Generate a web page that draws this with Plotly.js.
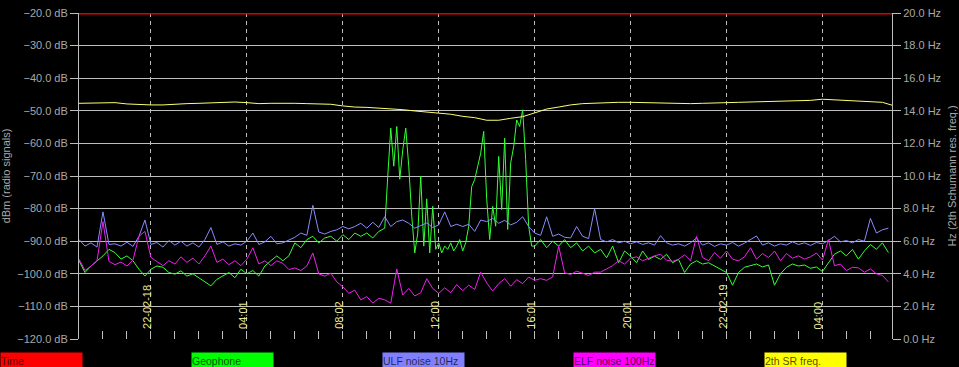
<!DOCTYPE html>
<html>
<head>
<meta charset="utf-8">
<script src="https://cdn.plot.ly/plotly-3.0.1.min.js"></script>
<style>html,body{margin:0;padding:0;background:#000;}#chart{width:959px;height:367px;}</style>
</head>
<body>
<div id="chart"></div>
<script>
// ---- data (hours relative to 2022-02-18 00:00) ----
const startHour = -3;
const stepHour = 0.25;

const tickHours = [0, 4, 8, 12, 16, 20, 24, 28];
const tickLabels = ["22-02-18", "04:01", "08:02", "12:00", "16:01", "20:01", "22-02-19", "04:00"];

const timeHours = [-3, 30.9];
const timeLevel = [-20, -20];

const ulfNoise = [
 -89.5,-91.5,-90.5,-91.8,-81,-91,-90.8,-91.5,-90.3,-91.6,
 -88.5,-83.5,-91,-90.4,-91.8,-89.8,-91.2,-90,-91.5,-90.5,
 -91.8,-89.5,-85.8,-91,-90.2,-91.5,-90.8,-91.2,-90,-87.5,
 -91,-90.2,-88.5,-90.8,-90.5,-89.7,-88.8,-87.5,-88.2,-79,
 -87.2,-87.8,-87,-86.5,-85.5,-86.2,-85.5,-84.5,-86,-84.2,
 -85.8,-82.5,-85.5,-84,-83.5,-84.5,-86,-85.2,-84.4,-85.8,
 -85,-81,-85.5,-84.8,-85.5,-84.8,-87,-83.5,-84,-83,
 -84.5,-83.6,-85,-84.2,-82.5,-85.5,-87.5,-88.2,-82.5,-88.5,
 -87.8,-88.8,-89,-85.5,-88.5,-89.2,-80,-89.5,-90.2,-89.5,
 -90.5,-90,-90.8,-90.2,-91,-90.5,-91.2,-88.3,-90.5,-91.2,
 -90.8,-91.5,-90.5,-89,-91.2,-90.5,-91.6,-90.8,-91.2,-90.4,
 -91.5,-90.6,-89.5,-88.4,-91.2,-90.5,-91.5,-90.8,-91.2,-90.2,
 -91,-90.5,-91.3,-90.4,-90.8,-89.8,-88.5,-90.2,-89.8,-90.5,
 -89.5,-90,-83,-87.5,-86.5,-86];

const elfNoise = [
 -95.5,-99,-97.6,-96,-84,-96.2,-97.2,-96.4,-97.6,-95.8,
 -88.5,-87,-95,-96.2,-97.5,-96,-97,-94.8,-96.5,-95.2,
 -97,-94.5,-91.5,-96.5,-95.5,-97.2,-96,-97.5,-95.5,-92,
 -97,-96,-97.5,-96,-96.8,-98.7,-98.2,-99,-97.6,-93.6,
 -100,-100.7,-99.8,-102.5,-104,-106,-105,-108,-107,-109,
 -107.5,-108,-109,-98.5,-106.5,-104.5,-106.8,-105.8,-101.5,-104.5,
 -106,-104.3,-105.8,-103.3,-105.2,-103.5,-104.8,-99.5,-102.8,-105.3,
 -103,-101.5,-103.8,-101.8,-103,-101,-102,-101.5,-102,-101,
 -91.5,-99.7,-100.2,-99.2,-99.8,-100.5,-99.5,-99.5,-98.5,-97.5,
 -96,-97,-95.2,-94.8,-96,-95.2,-94.5,-94,-95.8,-96.2,
 -95.5,-94.2,-96,-88.5,-95,-96,-93.5,-95.2,-93,-95.5,
 -96,-94.8,-92,-95.5,-93.8,-95,-93,-96,-93.8,-95.2,
 -94.5,-95.5,-94.8,-93.6,-95.8,-89.5,-97.5,-97,-99,-98,
 -98.2,-99.5,-98.5,-100,-100.5,-102.5];

// Geophone: quarter-hour samples, denser samples (7.5 min) during the burst
const geoBeforeStart = -3, geoBeforeStep = 0.25;
const geophoneBefore = [
 -96,-99.6,-97.6,-96,-94.5,-92.5,-93.5,-95.5,-94.5,-96,
 -98.6,-100.7,-98.6,-97.6,-98,-99.6,-100.1,-99.1,-100.7,-100,
 -101.2,-102.4,-103.7,-101.7,-100.7,-99.6,-101.2,-98.6,-100,-99,
 -100.7,-97.6,-96,-94.5,-96,-94.5,-90.5,-92,-89.5,-88.5,
 -90.5,-89,-88.5,-90,-88,-89.5,-87.5,-88.5,-87.5,-89,
 -87,-86];
const geoBurstStart = 9.875, geoBurstStep = 0.125;
const geophoneBurst = [
 -70,-55.3,-67,-54.8,-71,-62,-55.3,-67,-82.3,-93.6,
 -87.5,-70,-91.5,-77,-93.6,-79.3,-92.5,-90.5,-93.6,-91.5,
 -92.5,-90.5,-93,-91.5,-89.5,-93,-90.5,-85.4,-73.2,-71.1,
 -67,-63,-56.3,-77,-89.5,-79.3,-85.4,-64,-80.3,-58.4,
 -86.4,-66,-61,-52.8,-54.8,-49.7,-65,-85.4,-91.5];
const geoAfterStart = 16.0, geoAfterStep = 0.25;
const geophoneAfter = [
 -91.5,-89.5,-92,-90,-91.5,-89.5,-92,-90.5,-93,-91.5,
 -93.6,-92.5,-95.1,-91.5,-96.6,-93,-94.6,-96.6,-93,-95.6,
 -94.6,-95.6,-94,-96.6,-95.6,-99.6,-97,-96,-97,-96.6,
 -97.6,-98.6,-99.6,-103.5,-99.6,-98,-97.6,-97,-97.9,-97.3,
 -103.5,-100,-98,-97,-97.6,-97.3,-98.3,-97.9,-99.3,-96.6,
 -94,-93,-94.5,-92.5,-95.5,-93,-91,-92.5,-90.5,-93.5];

// 2nd Schumann resonance frequency (Hz), half-hour samples
const srStart = -3, srStep = 0.5;
const srFreq = [
 14.46,14.48,14.52,14.5,14.42,14.38,14.36,14.36,14.42,14.44,
 14.46,14.5,14.52,14.54,14.5,14.44,14.46,14.48,14.46,14.44,
 14.42,14.4,14.3,14.23,14.21,14.17,14.15,14.07,13.99,13.91,
 13.87,13.79,13.66,13.58,13.42,13.42,13.54,13.64,13.87,14.11,
 14.23,14.36,14.44,14.48,14.5,14.52,14.52,14.5,14.5,14.48,
 14.46,14.44,14.46,14.5,14.5,14.52,14.54,14.56,14.62,14.62,
 14.64,14.64,14.71,14.67,14.64,14.62,14.58,14.52,14.3];

const legendNames = ["Time", "Geophone", "ULF noise 10Hz", "ELF noise 100Hz", "2th SR freq."];
const legendColors = ["#ff0000", "#00ff00", "#8080ff", "#ff00ff", "#ffff00"];

// ---- build ----
const seq = (start, step, n) => Array.from({length: n}, (_, i) => +(start + i * step).toFixed(4));
const noiseHours = seq(startHour, stepHour, ulfNoise.length);
const geoHours = seq(geoBeforeStart, geoBeforeStep, geophoneBefore.length)
  .concat(seq(geoBurstStart, geoBurstStep, geophoneBurst.length))
  .concat(seq(geoAfterStart, geoAfterStep, geophoneAfter.length));
const geoValues = geophoneBefore.concat(geophoneBurst, geophoneAfter);
const srHours = seq(srStart, srStep, srFreq.length);

const FONT = "Liberation Sans, Arial, sans-serif";
const GRAY = "#a8a8a8";
const LINE = "#bdbdbd";

const traces = [
  {x: timeHours, y: timeLevel, type: "scatter", mode: "lines", line: {color: "#e00000", width: 3}, hoverinfo: "skip"},
  {x: geoHours, y: geoValues, type: "scatter", mode: "lines", line: {color: "#33ff33", width: 1}},
  {x: noiseHours, y: ulfNoise, type: "scatter", mode: "lines", line: {color: "#8a8aff", width: 1}},
  {x: noiseHours, y: elfNoise, type: "scatter", mode: "lines", line: {color: "#f020f0", width: 1}},
  {x: srHours, y: srFreq, type: "scatter", mode: "lines", yaxis: "y2", line: {color: "#ffff70", width: 1}}
];

const W = 959, H = 367, L = 79, R = 67, T = 13, B = 28;
const pw = W - L - R, ph = H - T - B;
const annotations = [];
tickHours.forEach((h, i) => {
  annotations.push({x: h, xref: "x", y: 8 / ph, yref: "paper", yanchor: "bottom", xanchor: "center",
    text: tickLabels[i], textangle: -90, showarrow: false, xshift: -4,
    font: {family: FONT, size: 11, color: "#e6e68c"}});
});
const legendLefts = [0, 191, 382, 573, 764];
legendNames.forEach((name, i) => {
  annotations.push({x: (legendLefts[i] - L) / pw, xref: "paper", xanchor: "left",
    y: (H - B - 352) / ph, yref: "paper", yanchor: "top",
    text: name, showarrow: false, width: 81, height: 15, align: "left", valign: "middle",
    bgcolor: legendColors[i], borderpad: 0,
    font: {family: FONT, size: 10.5, color: "rgba(0,0,0,0.72)"}});
});

const layout = {
  width: W, height: H,
  margin: {l: L, r: R, t: T, b: B, pad: 0},
  paper_bgcolor: "#000", plot_bgcolor: "#000",
  showlegend: false,
  font: {family: FONT, size: 11, color: GRAY},
  xaxis: {
    range: [-3, 30.9], tickvals: tickHours, showticklabels: false,
    ticks: "inside", ticklen: 8, tickcolor: LINE,
    showgrid: true, gridcolor: LINE, griddash: "4px,4px", gridwidth: 1,
    zeroline: false, showline: false,
    minor: {dtick: 1, tick0: 0, ticks: "inside", ticklen: 8, tickcolor: LINE, showgrid: false}
  },
  yaxis: {
    range: [-120, -20], dtick: 10, tickformat: ".1f", ticksuffix: " dB",
    ticks: "outside", ticklen: 8, tickcolor: LINE,
    showline: true, linecolor: LINE, gridcolor: LINE, zeroline: false,
    tickfont: {family: FONT, size: 11, color: GRAY},
    title: {text: "dBm (radio signals)", font: {family: FONT, size: 11, color: GRAY}, standoff: 6}
  },
  yaxis2: {
    overlaying: "y", side: "right", range: [0, 20], dtick: 2, tickformat: ".1f", ticksuffix: " Hz",
    ticks: "outside", ticklen: 8, tickcolor: LINE,
    showline: true, linecolor: LINE, showgrid: false, zeroline: false,
    tickfont: {family: FONT, size: 11, color: GRAY},
    title: {text: "Hz (2th Schumann res. freq.)", font: {family: FONT, size: 11, color: GRAY}, standoff: 8}
  },
  annotations: annotations
};

Plotly.newPlot("chart", traces, layout, {displayModeBar: false, staticPlot: true});
</script>
</body>
</html>
